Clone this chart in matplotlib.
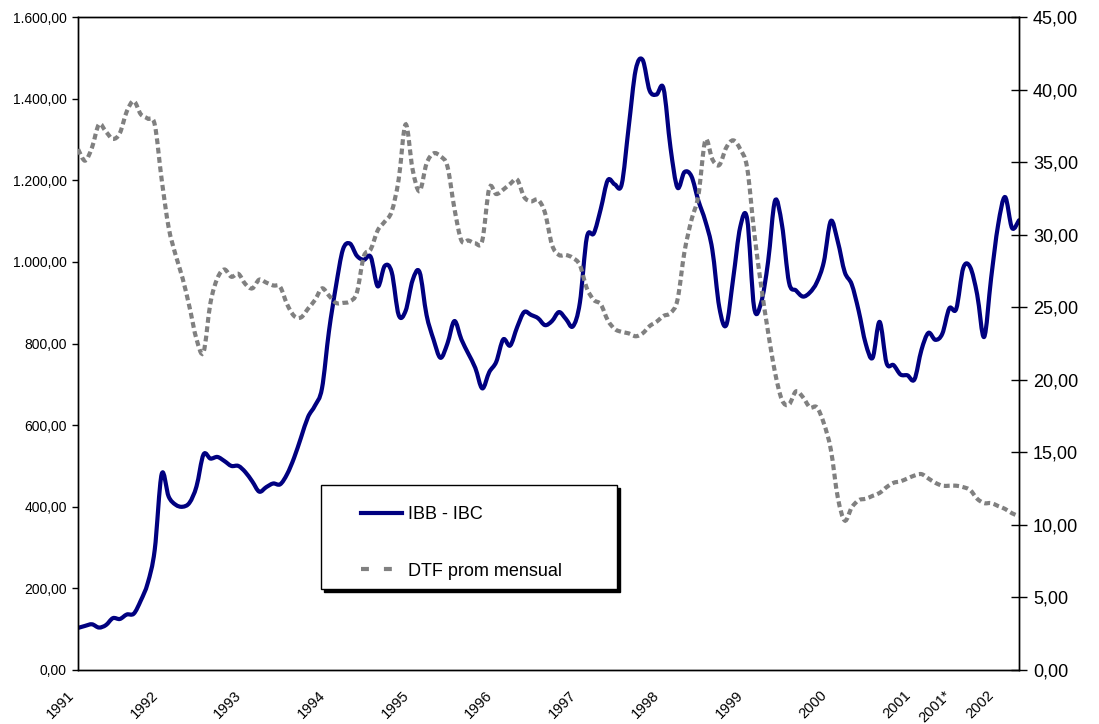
import numpy as np
import matplotlib
matplotlib.use("Agg")
import matplotlib.pyplot as plt
from matplotlib.lines import Line2D
from matplotlib.patches import Rectangle, PathPatch
from matplotlib.path import Path
from matplotlib.ticker import FuncFormatter, MultipleLocator
import matplotlib.transforms as mtransforms

plt.rcParams['font.family'] = ['Liberation Sans', 'DejaVu Sans']

# monthly series, Jan 1991 .. Apr 2002
ibb_ibc = [103, 108, 112, 104, 110, 127, 125, 136, 138, 170, 213, 294,
           480, 425, 405, 400, 410, 450, 528, 518, 522, 512, 500, 500,
           485, 462, 437, 448, 457, 455, 480, 520, 570, 620, 648, 690,
           830, 940, 1030, 1045, 1015, 1005, 1012, 940, 990, 975, 870, 880,
           955, 975, 870, 810, 765, 800, 855, 810, 775, 740, 690, 730,
           755, 810, 795, 840, 877, 870, 862, 845, 855, 877, 860, 842,
           900, 1060, 1070, 1130, 1200, 1190, 1190, 1330, 1470, 1495, 1420, 1410,
           1425, 1280, 1182, 1220, 1210, 1150, 1100, 1030, 889, 845, 960, 1085,
           1105, 888, 900, 1000, 1150, 1090, 950, 930, 915, 925, 950, 1000,
           1100, 1050, 975, 945, 880, 800, 765, 853, 752, 747, 724, 722,
           712, 784, 826, 809, 824, 886, 885, 985, 987, 920, 816, 960,
           1090, 1159, 1083, 1102]

dtf = [35.9, 35.1, 36.0, 37.6, 37.1, 36.6, 37.0, 38.5, 39.2, 38.3, 38.0, 37.6,
       33.8, 30.5, 28.6, 27.0, 25.0, 22.8, 21.9, 25.3, 27.0, 27.6, 27.1, 27.3,
       26.6, 26.3, 26.9, 26.7, 26.5, 26.4, 25.2, 24.4, 24.3, 24.9, 25.5, 26.3,
       25.8, 25.3, 25.3, 25.4, 26.0, 28.5, 29.0, 30.3, 30.9, 31.6, 33.8, 37.6,
       34.5, 33.0, 34.9, 35.6, 35.4, 34.7, 31.8, 29.6, 29.6, 29.4, 29.6, 33.2,
       32.8, 33.1, 33.5, 33.8, 32.6, 32.3, 32.4, 31.5, 29.3, 28.6, 28.6, 28.4,
       27.9, 26.3, 25.5, 25.2, 24.1, 23.5, 23.3, 23.2, 23.0, 23.2, 23.7, 24.0,
       24.4, 24.6, 25.5, 28.8, 31.0, 32.7, 36.5, 35.2, 34.8, 36.0, 36.5, 35.9,
       34.6, 30.2, 26.5, 23.3, 20.5, 18.6, 18.3, 19.2, 18.8, 18.1, 18.1, 17.0,
       15.2, 11.9, 10.3, 11.2, 11.7, 11.8, 12.0, 12.2, 12.6, 12.9, 13.0, 13.2,
       13.4, 13.5, 13.2, 12.9, 12.7, 12.7, 12.7, 12.6, 12.4, 11.8, 11.5, 11.5,
       11.3, 11.1, 10.8, 10.6]

year_labels = ['1991', '1992', '1993', '1994', '1995', '1996', '1997',
               '1998', '1999', '2000', '2001', '2001*', '2002']
year_pos = [0, 12, 24, 36, 48, 60, 72, 84, 96, 108, 120, 125.7, 132]

months = np.arange(len(ibb_ibc))

navy = '#000080'
grey = '#808080'


def es_fmt(v, pos=None):
    s = f"{v:,.2f}"
    return s.replace(',', 'X').replace('.', ',').replace('X', '.')


def smooth_path(x, y):
    # excel-like smoothed line: bezier segments through every data point
    p = np.column_stack([x, y]).astype(float)
    n = len(p)
    verts = [p[0]]
    codes = [Path.MOVETO]
    for i in range(n - 1):
        p0 = p[i - 1] if i > 0 else p[i]
        p3 = p[i + 2] if i + 2 < n else p[i + 1]
        c1 = p[i] + (p[i + 1] - p0) / 6.0
        c2 = p[i + 1] - (p3 - p[i]) / 6.0
        verts += [c1, c2, p[i + 1]]
        codes += [Path.CURVE4] * 3
    return Path(verts, codes)


fig = plt.figure(figsize=(10.99, 7.24), dpi=100)
ax = fig.add_axes([0.0710, 0.0746, 0.8562, 0.9019])
ax2 = ax.twinx()

ax.add_patch(PathPatch(smooth_path(months, ibb_ibc), fill=False,
                       edgecolor=navy, lw=3, joinstyle='round',
                       capstyle='round', zorder=2))
ax2.add_patch(PathPatch(smooth_path(months, dtf), fill=False,
                        edgecolor=grey, lw=3, linestyle=(0, (1.4, 0.85)),
                        capstyle='butt', zorder=3))

ax.set_xlim(0, 135)
ax.set_ylim(0, 1600)
ax2.set_ylim(0, 45)

ax.yaxis.set_major_locator(MultipleLocator(200))
ax.yaxis.set_major_formatter(FuncFormatter(es_fmt))
ax2.yaxis.set_major_locator(MultipleLocator(5))
ax2.yaxis.set_major_formatter(FuncFormatter(es_fmt))

ax.tick_params(axis='y', direction='out', length=4, width=1, pad=4,
               labelsize=10)
ax2.tick_params(axis='y', direction='inout', length=12, width=1, pad=4,
                labelsize=13)

ax.set_xticks(year_pos)
ax.set_xticklabels(year_labels, rotation=45, ha='right', va='top',
                   rotation_mode='anchor', fontsize=10.5)
ax.tick_params(axis='x', length=0, pad=13)
offset = mtransforms.ScaledTranslation(-11 / 100, 0, fig.dpi_scale_trans)
for lab in ax.get_xticklabels():
    lab.set_transform(lab.get_transform() + offset)

for a in (ax, ax2):
    for sp in a.spines.values():
        sp.set_color('black')
        sp.set_linewidth(1)

# legend box with shadow
bx, by, bw, bh = 0.2921, 0.1865, 0.2693, 0.1436
fig.patches.append(Rectangle((bx + 0.0027, by - 0.0041), bw, bh,
                             transform=fig.transFigure, facecolor='black',
                             edgecolor='black', zorder=4))
fig.patches.append(Rectangle((bx, by), bw, bh, transform=fig.transFigure,
                             facecolor='white', edgecolor='black', lw=1,
                             zorder=5))

handles = [Line2D([], [], color=navy, lw=3),
           Line2D([], [], color=grey, lw=3, dashes=(1.9, 3.6))]
leg = fig.legend(handles, ['IBB - IBC', 'DTF prom mensual'],
                 loc='upper left', bbox_to_anchor=(0.3285, 0.3012),
                 frameon=False, fontsize=13, handlelength=2.28,
                 handletextpad=0.3, labelspacing=2.2, borderpad=0,
                 borderaxespad=0)
leg.set_zorder(6)

fig.savefig('out.png', dpi=100)
